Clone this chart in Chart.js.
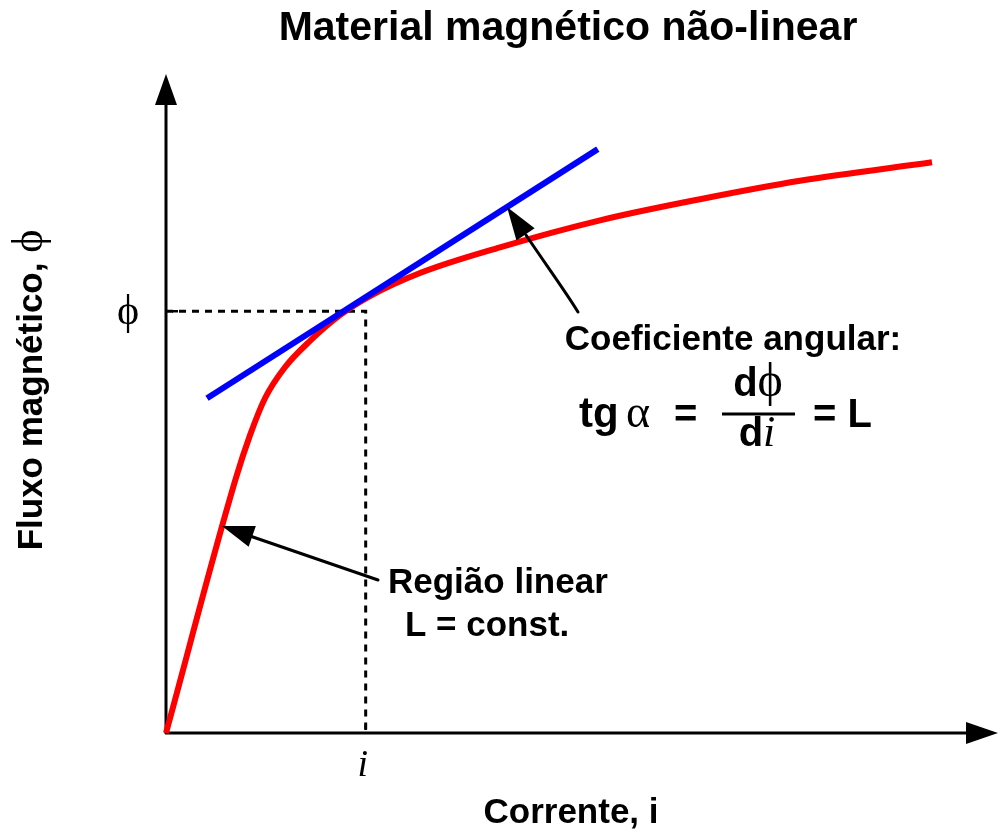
<!DOCTYPE html>
<html>
<head>
<meta charset="utf-8">
<script src="https://cdn.jsdelivr.net/npm/chart.js@4.4.1/dist/chart.umd.min.js"></script>
<style>
html, body { margin: 0; padding: 0; background: #fff; }
#wrap { width: 1001px; height: 834px; }
</style>
</head>
<body>
<div id="wrap"><canvas id="magChart" width="1001" height="834"></canvas></div>
<script>
// curva de magnetização (unidades arbitrárias, eixo 0..100)
var curveX = [0, 8.41, 10.10, 11.90, 14.30, 17.31, 20.91, 24.52, 30.53, 40.14, 52.16, 64.18, 76.20, 92.07];
var curveY = [0, 38.7, 45.2, 50.8, 55.5, 59.5, 63.4, 66.3, 69.8, 73.7, 77.8, 81.0, 83.8, 86.6];

// reta tangente
var tangentX = [4.93, 51.9];
var tangentY = [50.8, 88.6];

// marcas nos eixos
var xTicks = [24];
var xTickLabels = ['i'];
var yTicks = [64];
var yTickLabels = ['ϕ'];

var SANS = '"Liberation Sans", Arial, sans-serif';
var SERIF = '"Liberation Serif", "DejaVu Serif", serif';

function toPoints(xs, ys) {
    return xs.map(function (x, i) { return { x: x, y: ys[i] }; });
}

function arrowHead(ctx, tipX, tipY, fromX, fromY, len, halfW) {
    var a = Math.atan2(tipY - fromY, tipX - fromX);
    var bx = tipX - len * Math.cos(a), by = tipY - len * Math.sin(a);
    ctx.beginPath();
    ctx.moveTo(tipX, tipY);
    ctx.lineTo(bx + halfW * Math.sin(a), by - halfW * Math.cos(a));
    ctx.lineTo(bx - halfW * Math.sin(a), by + halfW * Math.cos(a));
    ctx.closePath();
    ctx.fill();
}

// desenha pedaços de texto com fontes diferentes lado a lado
function drawRuns(ctx, runs, x, y, align) {
    var total = 0;
    runs.forEach(function (r) { ctx.font = r.font; total += ctx.measureText(r.t).width; });
    var cx = align === 'center' ? x - total / 2 : x;
    ctx.textAlign = 'left';
    runs.forEach(function (r) {
        ctx.font = r.font;
        ctx.fillText(r.t, cx, y);
        cx += ctx.measureText(r.t).width;
    });
}

var axesPlugin = {
    id: 'axesPlugin',
    beforeDatasetsDraw: function (chart) {
        var ctx = chart.ctx, xs = chart.scales.x, ys = chart.scales.y;
        var x0 = xs.getPixelForValue(0), y0 = ys.getPixelForValue(0);
        var top = chart.chartArea.top, right = chart.chartArea.right;
        ctx.save();
        ctx.strokeStyle = '#000';
        ctx.fillStyle = '#000';
        ctx.lineWidth = 3;
        ctx.beginPath();
        ctx.moveTo(x0, y0 + 1);
        ctx.lineTo(x0, top + 25);
        ctx.moveTo(x0 - 1, y0);
        ctx.lineTo(right - 25, y0);
        ctx.stroke();
        arrowHead(ctx, x0, top, x0, y0, 31, 11);
        arrowHead(ctx, right, y0, x0, y0, 32, 11);

        // marcas pequenas
        ctx.lineWidth = 2.5;
        yTicks.forEach(function (v) {
            var p = ys.getPixelForValue(v);
            ctx.beginPath(); ctx.moveTo(x0 + 6, p); ctx.lineTo(x0 + 12, p); ctx.stroke();
        });
        xTicks.forEach(function (v) {
            var p = xs.getPixelForValue(v);
            ctx.beginPath(); ctx.moveTo(p, y0 - 8); ctx.lineTo(p, y0 - 3); ctx.stroke();
        });
        ctx.restore();
    },
    afterDraw: function (chart) {
        var ctx = chart.ctx, xs = chart.scales.x, ys = chart.scales.y;
        ctx.save();
        ctx.fillStyle = '#000';
        ctx.strokeStyle = '#000';

        // titulo
        ctx.textAlign = 'center';
        ctx.textBaseline = 'alphabetic';
        ctx.font = 'bold 41px ' + SANS;
        ctx.fillText('Material magnético não-linear', 568, 40);

        // rótulos dos eixos
        drawRuns(ctx, [{ t: 'Corrente, i', font: 'bold 35px ' + SANS }], 571, 823, 'center');
        ctx.save();
        ctx.translate(42, 390);
        ctx.rotate(-Math.PI / 2);
        drawRuns(ctx, [
            { t: 'Fluxo magnético, ', font: 'bold 35px ' + SANS },
            { t: 'ϕ', font: '44px ' + SERIF }
        ], 0, 0, 'center');
        ctx.restore();

        // rótulos das marcas
        ctx.textAlign = 'center';
        ctx.textBaseline = 'middle';
        ctx.font = '42px ' + SERIF;
        yTicks.forEach(function (v, i) {
            ctx.fillText(yTickLabels[i], 128, ys.getPixelForValue(v) + 2);
        });
        ctx.textBaseline = 'alphabetic';
        ctx.font = 'italic 38px ' + SERIF;
        xTicks.forEach(function (v, i) {
            ctx.fillText(xTickLabels[i], xs.getPixelForValue(v) - 3, 776);
        });

        // anotação superior
        ctx.font = 'bold 35px ' + SANS;
        ctx.fillText('Coeficiente angular:', 733, 350);
        drawRuns(ctx, [{ t: 'tg', font: 'bold 42px ' + SANS }], 579, 427, 'left');
        drawRuns(ctx, [{ t: 'α', font: '46px ' + SERIF }], 626, 427, 'left');
        drawRuns(ctx, [{ t: '=', font: 'bold 40px ' + SANS }], 674, 427, 'left');
        drawRuns(ctx, [
            { t: 'd', font: 'bold 40px ' + SANS },
            { t: 'ϕ', font: '48px ' + SERIF }
        ], 758, 396, 'center');
        drawRuns(ctx, [
            { t: 'd', font: 'bold 40px ' + SANS },
            { t: 'i', font: 'italic 44px ' + SERIF }
        ], 757, 446, 'center');
        ctx.lineWidth = 3;
        ctx.beginPath(); ctx.moveTo(722, 414); ctx.lineTo(795, 414); ctx.stroke();
        drawRuns(ctx, [{ t: '= L', font: 'bold 40px ' + SANS }], 813, 427, 'left');

        // anotação inferior
        ctx.font = 'bold 35px ' + SANS;
        ctx.textAlign = 'left';
        ctx.fillText('Região linear', 388, 593);
        ctx.fillText('L = const.', 405, 636);

        // setas
        ctx.lineWidth = 3;
        ctx.lineJoin = 'round';
        ctx.lineCap = 'round';
        ctx.beginPath();
        ctx.moveTo(578, 312);
        ctx.bezierCurveTo(566, 292, 544, 262, 526, 235);
        ctx.stroke();
        arrowHead(ctx, 507, 207, 526, 235, 33, 11);

        ctx.beginPath();
        ctx.moveTo(378, 580);
        ctx.lineTo(250, 536);
        ctx.stroke();
        arrowHead(ctx, 222, 526, 378, 580, 32, 11);

        ctx.restore();
    }
};

var ctx = document.getElementById('magChart').getContext('2d');

var chart = new Chart(ctx, {
    type: 'line',
    data: {
        datasets: [{
            label: 'tangente',
            data: toPoints(tangentX, tangentY),
            borderColor: '#0000ff',
            borderWidth: 6,
            pointRadius: 0,
            borderCapStyle: 'butt',
            clip: false,
            order: 0
        }, {
            label: 'curva',
            data: toPoints(curveX, curveY),
            borderColor: '#ff0000',
            borderWidth: 6,
            pointRadius: 0,
            cubicInterpolationMode: 'monotone',
            clip: false,
            order: 1
        }, {
            label: 'guia',
            data: [{ x: 0, y: yTicks[0] }, { x: xTicks[0], y: yTicks[0] }, { x: xTicks[0], y: 0 }],
            borderColor: '#000',
            borderWidth: 3,
            borderDash: [7, 6],
            pointRadius: 0,
            clip: false,
            order: 2
        }]
    },
    options: {
        responsive: false,
        animation: false,
        devicePixelRatio: 1,
        layout: { padding: { left: 166, top: 74, right: 3, bottom: 101 } },
        scales: {
            x: { type: 'linear', min: 0, max: 100, display: false },
            y: { type: 'linear', min: 0, max: 100, display: false }
        },
        plugins: {
            legend: { display: false },
            tooltip: { enabled: false },
            title: { display: false }
        }
    },
    plugins: [axesPlugin]
});
</script>
</body>
</html>
